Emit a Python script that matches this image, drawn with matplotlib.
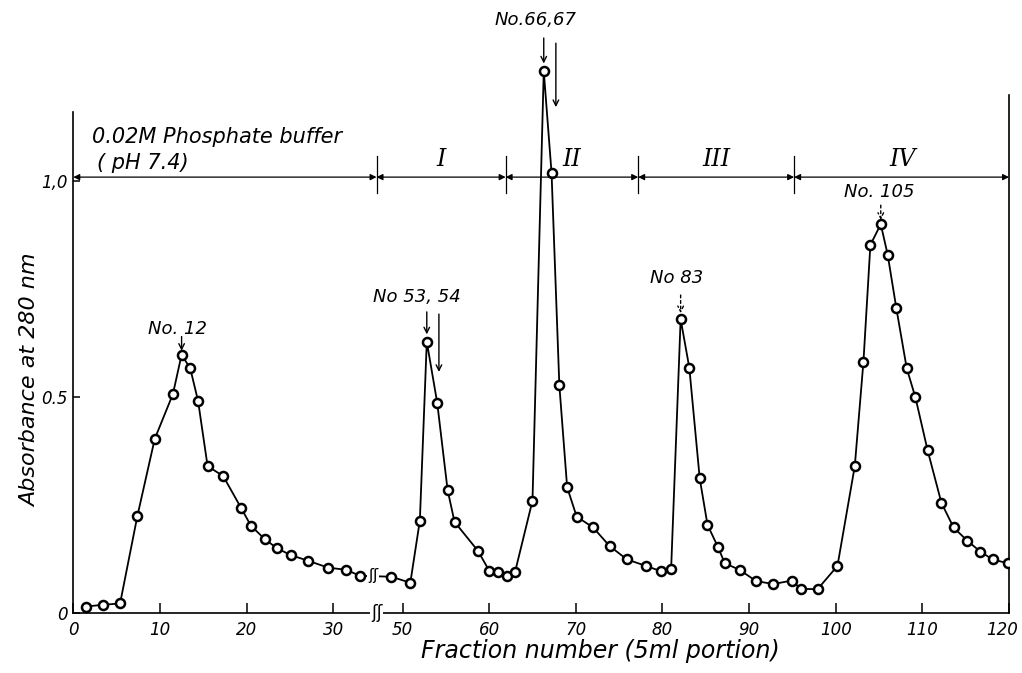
import numpy as np
import matplotlib
matplotlib.use("Agg")
import matplotlib.pyplot as plt
import matplotlib.transforms as mtransforms

# fraction numbers (axis is broken between 35 and 47)
frac_a = [1.5, 3.4, 5.4, 7.4, 9.4, 11.5, 12.5, 13.5, 14.4, 15.5, 17.3, 19.4, 20.5,
          22.1, 23.5, 25.1, 27.1, 29.4, 31.5, 33.1]
abs_a = [0.015, 0.019, 0.022, 0.225, 0.403, 0.507, 0.598, 0.566, 0.491, 0.340, 0.317,
         0.242, 0.202, 0.171, 0.150, 0.134, 0.121, 0.105, 0.100, 0.086]

frac_b = [48.7, 50.9, 52.0, 52.8, 54.0, 55.2, 56.0, 58.7, 60.0, 61.0, 62.1, 63.0, 65.0,
          66.3, 67.2, 68.1, 69.0, 70.1, 72.0, 73.9, 75.9, 78.1, 79.8, 81.0, 82.1, 83.1,
          84.3, 85.2, 86.4, 87.2, 88.9, 90.8, 92.8, 94.9, 96.0, 97.9, 100.2, 102.2,
          103.2, 104.0, 105.2, 106.0, 107.0, 108.2, 109.2, 110.6, 112.2, 113.6, 115.2,
          116.7, 118.1, 119.9]
abs_b = [0.084, 0.070, 0.214, 0.628, 0.487, 0.285, 0.211, 0.144, 0.098, 0.094, 0.086,
         0.096, 0.260, 1.255, 1.019, 0.527, 0.291, 0.223, 0.198, 0.155, 0.124, 0.109,
         0.097, 0.101, 0.680, 0.568, 0.312, 0.204, 0.153, 0.115, 0.100, 0.074, 0.067,
         0.075, 0.056, 0.055, 0.109, 0.340, 0.582, 0.852, 0.900, 0.829, 0.705, 0.566,
         0.499, 0.377, 0.255, 0.198, 0.167, 0.142, 0.124, 0.115]

xticks = [0, 10, 20, 30, 50, 60, 70, 80, 90, 100, 110, 120]
yticks = [0, 0.5, 1.0]
ytick_labels = ["0", "0.5", "1,0"]

# step boundaries and names
step_edges = [0, 35, 61.9, 77.2, 95.2, 120]
step_names = ["I", "II", "III", "IV"]
step_label_x = [54.5, 69.5, 86.2, 107.7]

BREAK_LO, BREAK_HI = 35, 47
GAP = BREAK_HI - BREAK_LO


def fwd(x):
    x = np.asarray(x, dtype=float)
    return np.where(x <= BREAK_LO, x, np.where(x >= BREAK_HI, x - GAP, BREAK_LO))


def inv(x):
    x = np.asarray(x, dtype=float)
    return np.where(x <= BREAK_LO, x, x + GAP)


plt.rcParams['font.family'] = ['DejaVu Sans']
fig = plt.figure(figsize=(10.22, 6.73), dpi=100)
ax = fig.add_axes([73.3 / 1022, 60 / 673, (1009 - 73.3) / 1022, 613 / 673])
ax.set_xscale('function', functions=(fwd, inv))

frac = frac_a + frac_b
absb = abs_a + abs_b
ax.plot(frac, absb, color='black', lw=1.3, marker='o', ms=6.5,
        mfc='white', mec='black', mew=1.8, zorder=3)

ax.set_xlim(0, 120)
ax.set_ylim(0, 613 / 432)

ax.spines['top'].set_visible(False)
ax.spines['left'].set_bounds(0, 1.16)
ax.spines['right'].set_bounds(0, 1.2)
for s in ['left', 'right', 'bottom']:
    ax.spines[s].set_linewidth(1.2)

ax.set_xticks(xticks)
ax.set_xticklabels([str(t) for t in xticks])
ax.set_yticks(yticks)
ax.set_yticklabels(ytick_labels)
ax.tick_params(direction='in', length=7, width=1.1, labelsize=12, pad=6)
ax.tick_params(axis='y', length=5, pad=4)
ax.tick_params(right=False)
for lab in ax.get_xticklabels() + ax.get_yticklabels():
    lab.set_fontstyle('italic')
# keep the last label inside the picture
last = ax.get_xticklabels()[-1]
last.set_horizontalalignment('right')
last.set_transform(last.get_transform() +
                   mtransforms.ScaledTranslation(9 / 100, 0, fig.dpi_scale_trans))

# break marks
ax.text(BREAK_LO, 0, "ʃʃ", ha='center', va='center', fontsize=12, zorder=5,
        bbox=dict(facecolor='white', edgecolor='none', pad=0.5), clip_on=False)
ax.text(34.6, 0.086, "ʃʃ", ha='center', va='center', fontsize=11, zorder=5,
        bbox=dict(facecolor='white', edgecolor='none', pad=0.3))

# elution steps
for i in range(len(step_edges) - 1):
    ax.annotate('', xy=(step_edges[i + 1], 1.009), xytext=(step_edges[i], 1.009),
                arrowprops=dict(arrowstyle='<|-|>', lw=0.9, color='black',
                                mutation_scale=9, shrinkA=0, shrinkB=0))
for e in step_edges[1:-1]:
    ax.plot([e, e], [0.972, 1.058], color='black', lw=0.9)
for name, lx in zip(step_names, step_label_x):
    ax.text(lx, 1.05, name, ha='center', va='center', fontsize=17,
            family='DejaVu Serif', style='italic')

ax.text(2.2, 1.102, "0.02M Phosphate buffer", ha='left', va='center',
        fontsize=15, style='italic')
ax.text(2.7, 1.042, "( pH 7.4)", ha='left', va='center', fontsize=15, style='italic')

# peak annotations
arr = dict(arrowstyle='->', lw=1.0, color='black', shrinkA=0, shrinkB=0)
darr = dict(arrowstyle='->', lw=1.0, color='black', ls=(0, (2, 2)), shrinkA=0, shrinkB=0)

ax.text(12.0, 0.657, "No. 12", ha='center', va='center', fontsize=13, style='italic')
ax.annotate('', xy=(12.5, 0.607), xytext=(12.5, 0.64), arrowprops=arr)

ax.text(51.7, 0.732, "No 53, 54", ha='center', va='center', fontsize=13, style='italic')
ax.annotate('', xy=(52.8, 0.645), xytext=(52.8, 0.697), arrowprops=arr)
ax.annotate('', xy=(54.2, 0.558), xytext=(54.2, 0.692), arrowprops=arr)

ax.text(65.4, 1.373, "No.66,67", ha='center', va='center', fontsize=13, style='italic')
ax.annotate('', xy=(66.3, 1.272), xytext=(66.3, 1.331), arrowprops=arr)
ax.annotate('', xy=(67.7, 1.171), xytext=(67.7, 1.319), arrowprops=arr)

ax.text(81.6, 0.775, "No 83", ha='center', va='center', fontsize=13, style='italic')
ax.annotate('', xy=(82.1, 0.694), xytext=(82.1, 0.736), arrowprops=darr)

ax.text(105.0, 0.975, "No. 105", ha='center', va='center', fontsize=13, style='italic')
ax.annotate('', xy=(105.2, 0.91), xytext=(105.2, 0.944), arrowprops=darr)

fig.text(600 / 1022, 1 - 651 / 673, "Fraction number (5ml portion)", ha='center',
         va='center', fontsize=17, style='italic')
fig.text(30 / 1022, 1 - 380 / 673, "Absorbance at 280 nm", ha='center', va='center',
         fontsize=16, style='italic', rotation=90)

fig.savefig("out.png", dpi=100)
